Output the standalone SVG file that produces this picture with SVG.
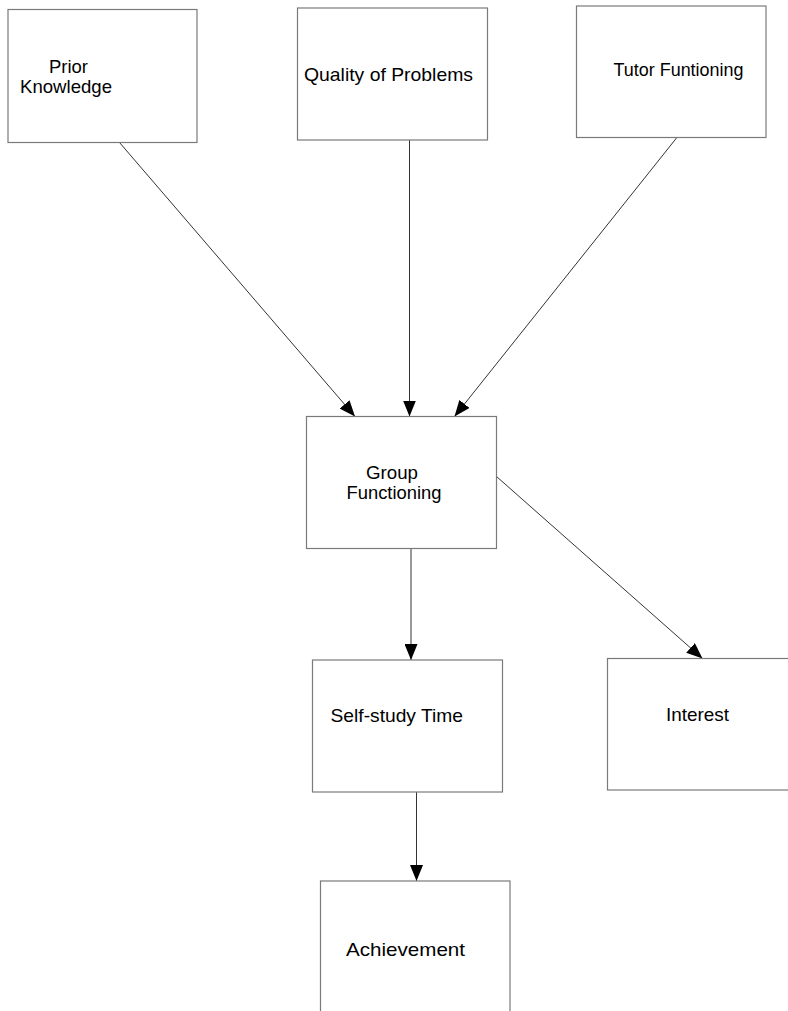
<svg xmlns="http://www.w3.org/2000/svg" width="788" height="1011" viewBox="0 0 788 1011">
<defs>
<style>
.box{fill:#fff;stroke:#7a7a7a;stroke-width:1.2}
.lbl{font-family:"Liberation Sans",Arial,sans-serif;font-size:19px;fill:#000}
.edge{stroke:#333;stroke-width:1;fill:none;marker-end:url(#arr)}
</style>
<marker id="arr" markerUnits="userSpaceOnUse" markerWidth="16" markerHeight="13" refX="16" refY="6.5" orient="auto">
<path d="M0,0 L16,6.5 L0,13 Z" fill="#000"/>
</marker>
</defs>
<rect width="788" height="1011" fill="#fff"/>
<g id="connectors">
<line class="edge" x1="119.5" y1="142.5" x2="355" y2="416.5"/>
<line class="edge" x1="409.5" y1="140" x2="409.5" y2="416.5"/>
<line class="edge" x1="676.5" y1="138" x2="454.5" y2="416.5"/>
<line class="edge" x1="411" y1="548.5" x2="411" y2="660"/>
<line class="edge" x1="496.5" y1="476.5" x2="702.5" y2="658.5"/>
<line class="edge" x1="416.5" y1="792" x2="416.5" y2="881"/>
</g>
<g id="prior-knowledge">
<rect class="box" x="8" y="9.5" width="189" height="133"/>
<text class="lbl" x="49" y="72.5" textLength="39" lengthAdjust="spacingAndGlyphs">Prior</text>
<text class="lbl" x="20" y="93" textLength="92" lengthAdjust="spacingAndGlyphs">Knowledge</text>
</g>
<g id="quality-of-problems">
<rect class="box" x="297.5" y="8" width="190" height="132"/>
<text class="lbl" x="304" y="81" textLength="169" lengthAdjust="spacingAndGlyphs">Quality of Problems</text>
</g>
<g id="tutor-functioning">
<rect class="box" x="576.5" y="6" width="189.5" height="131.5"/>
<text class="lbl" x="613.5" y="75.5" textLength="130" lengthAdjust="spacingAndGlyphs">Tutor Funtioning</text>
</g>
<g id="group-functioning">
<rect class="box" x="306.5" y="416.5" width="190" height="132"/>
<text class="lbl" x="366" y="478.5" textLength="52" lengthAdjust="spacingAndGlyphs">Group</text>
<text class="lbl" x="346.5" y="498.5" textLength="95" lengthAdjust="spacingAndGlyphs">Functioning</text>
</g>
<g id="self-study-time">
<rect class="box" x="312.5" y="660" width="190" height="132"/>
<text class="lbl" x="330.5" y="722" textLength="132.5" lengthAdjust="spacingAndGlyphs">Self-study Time</text>
</g>
<g id="interest">
<rect class="box" x="607.5" y="658.5" width="190" height="131.5"/>
<text class="lbl" x="666" y="721" textLength="63" lengthAdjust="spacingAndGlyphs">Interest</text>
</g>
<g id="achievement">
<rect class="box" x="320.5" y="881" width="189.5" height="140"/>
<text class="lbl" x="346" y="955.5" textLength="119" lengthAdjust="spacingAndGlyphs">Achievement</text>
</g>
</svg>
